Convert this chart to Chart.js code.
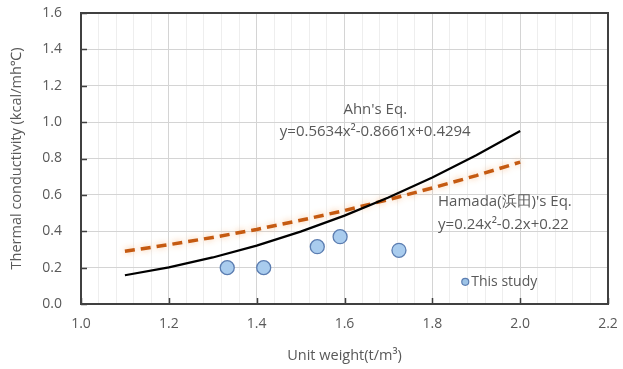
<!DOCTYPE html>
<html>
<head>
<meta charset="utf-8">
<script src="https://cdn.jsdelivr.net/npm/chart.js@4"></script>
<style>
  html, body { margin: 0; padding: 0; background: #fff; }
  #wrap { width: 623px; height: 369px; }
</style>
</head>
<body>
<div id="wrap"><canvas id="thermalChart"></canvas></div>
<script>
// unit weight (t/m3) for the two equation curves
var weights = [1.1, 1.2, 1.3, 1.4, 1.5, 1.6, 1.7, 1.8, 1.9, 2.0];
// Ahn's Eq. values
var ahnValues = [0.158, 0.201, 0.256, 0.321, 0.398, 0.486, 0.585, 0.696, 0.818, 0.951];
// Hamada's Eq. values
var hamadaValues = [0.290, 0.326, 0.366, 0.410, 0.460, 0.514, 0.574, 0.638, 0.706, 0.780];
// measured points (This study)
var studyWeights = [1.333, 1.416, 1.538, 1.590, 1.724];
var studyValues = [0.20, 0.20, 0.315, 0.37, 0.295];

var xTicks = ['1.0', '1.2', '1.4', '1.6', '1.8', '2.0', '2.2'];
var yTicks = ['0.0', '0.2', '0.4', '0.6', '0.8', '1.0', '1.2', '1.4', '1.6'];

function pairs(xs, ys) {
    return xs.map(function(x, i) { return { x: x, y: ys[i] }; });
}
function isMajor(v) {
    return Math.abs(v * 5 - Math.round(v * 5)) < 1e-6;
}
function noEdgePadding(scale) {
    scale.paddingTop = 0;
    scale.paddingBottom = 0;
    scale.paddingLeft = 0;
    scale.paddingRight = 0;
}

var textColor = '#595959';
var fontFamily = "'Open Sans', 'Noto Sans', sans-serif";

var overlay = {
    id: 'overlay',
    beforeDatasetDraw: function(chart, args) {
        if (args.index === 1) {
            chart.ctx.save();
            chart.ctx.shadowColor = 'rgba(248, 190, 140, 0.9)';
            chart.ctx.shadowBlur = 6;
        }
    },
    afterDatasetDraw: function(chart, args) {
        if (args.index === 1) chart.ctx.restore();
    },
    beforeDatasetsDraw: function(chart) {
        var ctx = chart.ctx, a = chart.chartArea;
        var xs = chart.scales.x, ys = chart.scales.y;
        ctx.save();
        // inside tick marks
        ctx.strokeStyle = '#404040';
        ctx.lineWidth = 1.5;
        ctx.beginPath();
        yTicks.forEach(function(t) {
            var py = Math.round(ys.getPixelForValue(parseFloat(t))) + 0.5;
            ctx.moveTo(a.left, py); ctx.lineTo(a.left + 6, py);
        });
        xTicks.forEach(function(t) {
            var px = Math.round(xs.getPixelForValue(parseFloat(t))) + 0.5;
            ctx.moveTo(px, a.bottom); ctx.lineTo(px, a.bottom - 6);
        });
        ctx.stroke();
        // plot frame
        ctx.lineWidth = 2;
        ctx.strokeStyle = '#404040';
        ctx.strokeRect(a.left, a.top, a.right - a.left, a.bottom - a.top);
        ctx.restore();
    },
    afterDatasetsDraw: function(chart) {
        var ctx = chart.ctx;
        var xs = chart.scales.x, ys = chart.scales.y;
        ctx.save();
        ctx.fillStyle = textColor;
        ctx.font = '15px ' + fontFamily;
        ctx.textBaseline = 'middle';

        ctx.textAlign = 'center';
        ctx.fillText("Ahn's Eq.", xs.getPixelForValue(1.67), ys.getPixelForValue(1.067));
        ctx.fillText('y=0.5634x\u00b2-0.8661x+0.4294', xs.getPixelForValue(1.67), ys.getPixelForValue(0.945));

        ctx.textAlign = 'left';
        ctx.fillText("Hamada(\u6d5c\u7530)'s Eq.", xs.getPixelForValue(1.813), ys.getPixelForValue(0.56));
        ctx.fillText('y=0.24x\u00b2-0.2x+0.22', xs.getPixelForValue(1.813), ys.getPixelForValue(0.438));

        // legend entry
        var lx = xs.getPixelForValue(1.875), ly = ys.getPixelForValue(0.122);
        ctx.beginPath();
        ctx.arc(lx, ly, 3.5, 0, Math.PI * 2);
        ctx.fillStyle = '#9DC3E6';
        ctx.fill();
        ctx.lineWidth = 1.2;
        ctx.strokeStyle = '#5B7DB1';
        ctx.stroke();
        ctx.fillStyle = textColor;
        ctx.font = '14px ' + fontFamily;
        ctx.fillText('This study', lx + 6, ly);
        ctx.restore();
    }
};

var ctx = document.getElementById('thermalChart').getContext('2d');
var thermalChart = new Chart(ctx, {
    type: 'scatter',
    data: {
        datasets: [{
            label: "Ahn's Eq.",
            type: 'line',
            data: pairs(weights, ahnValues),
            borderColor: '#000000',
            borderWidth: 2.2,
            pointRadius: 0,
            tension: 0
        }, {
            label: "Hamada's Eq.",
            type: 'line',
            data: pairs(weights, hamadaValues),
            borderColor: '#C55A11',
            borderWidth: 3.5,
            borderDash: [10, 6],
            pointRadius: 0,
            tension: 0
        }, {
            label: 'This study',
            data: pairs(studyWeights, studyValues),
            backgroundColor: '#A9CCEE',
            borderColor: '#5B7DB1',
            borderWidth: 1.3,
            pointRadius: 7,
            pointHoverRadius: 7
        }]
    },
    options: {
        responsive: true,
        maintainAspectRatio: false,
        animation: false,
        layout: { padding: { top: 13, right: 15, left: 0, bottom: 0 } },
        plugins: {
            legend: { display: false },
            tooltip: { enabled: false }
        },
        scales: {
            x: {
                type: 'linear',
                min: 1.0,
                max: 2.2,
                afterFit: function(scale) { scale.height = 65; noEdgePadding(scale); },
                ticks: {
                    stepSize: 0.04,
                    autoSkip: false,
                    maxRotation: 0,
                    color: textColor,
                    font: { family: fontFamily, size: 14 },
                    padding: 12,
                    callback: function(v) {
                        return isMajor(v) ? xTicks[Math.round((v - 1.0) * 5)] : '';
                    }
                },
                grid: {
                    drawTicks: false,
                    color: function(c) {
                        return isMajor(c.tick.value) ? '#d4d4d4' : '#eeeeee';
                    },
                    lineWidth: 1
                },
                border: { display: false },
                title: {
                    display: true,
                    text: 'Unit weight(t/m\u00b3)',
                    color: textColor,
                    font: { family: fontFamily, size: 14.5 },
                    padding: { top: 6 }
                }
            },
            y: {
                min: 0,
                max: 1.6,
                afterFit: function(scale) { scale.width = 81; noEdgePadding(scale); },
                ticks: {
                    stepSize: 0.2,
                    color: textColor,
                    font: { family: fontFamily, size: 14 },
                    padding: 19,
                    callback: function(v) {
                        return yTicks[Math.round(v * 5)];
                    }
                },
                grid: { drawTicks: false, color: '#d4d4d4', lineWidth: 1 },
                border: { display: false },
                title: {
                    display: true,
                    text: 'Thermal conductivity (kcal/mh\u2103)',
                    color: textColor,
                    font: { family: fontFamily, size: 14.5 },
                    padding: { top: 8, bottom: 0 }
                }
            }
        }
    },
    plugins: [overlay]
});
</script>
</body>
</html>
